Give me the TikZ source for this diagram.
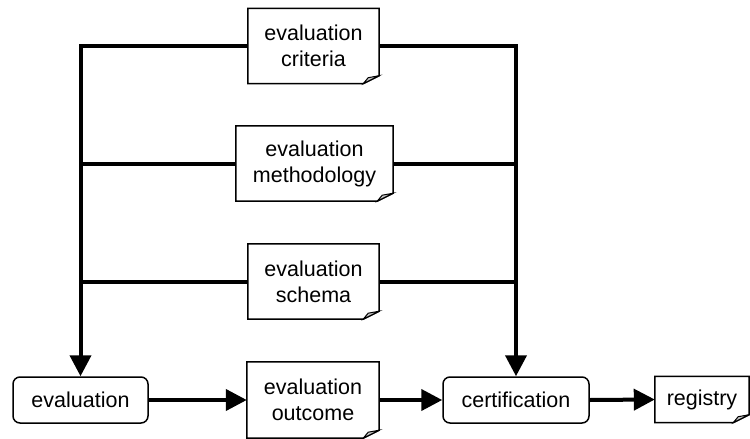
\documentclass[tikz,border=0pt]{standalone}
\usepackage{fontspec}
\setmainfont{Liberation Sans}
\usetikzlibrary{arrows.meta}
\definecolor{foldgray}{RGB}{200,200,200}
\newcommand{\docframe}[1]{%
  \draw[boxline] (#1.north west) -- (#1.north east) -- ([yshift=8pt]#1.south east)
    -- ([xshift=-16pt]#1.south east) -- (#1.south west) -- cycle;
  \filldraw[boxline,line width=1pt,fill=foldgray] ([xshift=-16pt]#1.south east)
    -- ([xshift=-11pt,yshift=6pt]#1.south east) -- ([yshift=8pt]#1.south east) -- cycle;
}
\begin{document}
\begin{tikzpicture}[x=1pt,y=-1pt,
  every node/.style={font=\fontsize{21.5}{26}\selectfont, align=center, inner sep=0pt},
  boxline/.style={line width=1.5pt, draw=black},
  docbox/.style={minimum height=75pt},
  roundbox/.style={boxline, rounded corners=7pt, minimum height=46pt},
  flow/.style={line width=4pt, -{Triangle[length=21pt,width=21pt]}},
  link/.style={line width=4pt}
]
\useasboundingbox (0,0) rectangle (750,439);

\node[docbox, minimum width=131pt] (crit) at (313.5,46) {evaluation\\criteria};
\node[docbox, minimum width=157pt] (meth) at (314.5,163.5) {evaluation\\methodology};
\node[docbox, minimum width=131pt] (schm) at (313.5,281.5) {evaluation\\schema};
\node[roundbox, minimum width=135pt] (eval) at (80.5,400) {evaluation};
\node[docbox, minimum width=132pt, minimum height=76pt] (outc) at (313,400) {evaluation\\outcome};
\node[roundbox, minimum width=146pt] (cert) at (516,400) {certification};
\node[minimum width=94pt, minimum height=46pt] (reg) at (702,399.5) {registry};

\docframe{crit}
\docframe{meth}
\docframe{schm}
\docframe{outc}
\docframe{reg}

\draw[flow] (crit.west) -| (eval.north);
\draw[flow] (crit.east) -| (cert.north);
\draw[link] (meth.west) -- (meth.west -| eval.north);
\draw[link] (meth.east) -- (meth.east -| cert.north);
\draw[link] (schm.west) -- (schm.west -| eval.north);
\draw[link] (schm.east) -- (schm.east -| cert.north);
\draw[flow] (eval.east) -- (outc.west);
\draw[flow] (outc.east) -- (cert.west);
\draw[flow] (cert.east) -- (reg.west);
\end{tikzpicture}
\end{document}
